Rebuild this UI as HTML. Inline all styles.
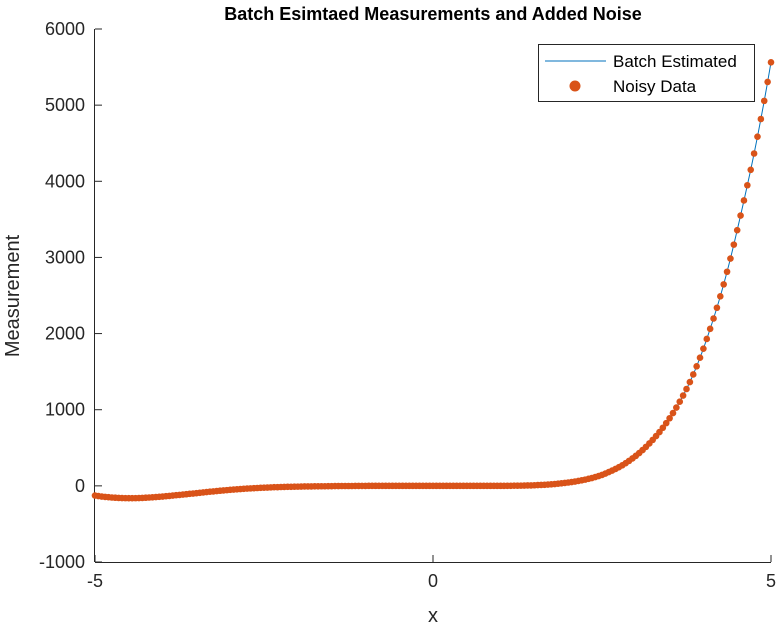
<!DOCTYPE html>
<html><head><meta charset="utf-8"><style>
body{margin:0;background:#fff;}
svg{display:block;font-family:"Liberation Sans",Arial,sans-serif;}
</style></head><body>
<svg id="chart" width="779" height="625">
<rect width="779" height="625" fill="#fff"/>
<text x="433" y="20" text-anchor="middle" font-size="18" font-weight="bold" fill="#000">Batch Esimtaed Measurements and Added Noise</text>
<g id="axes"></g>
<g id="series"></g>
<text x="433" y="622" text-anchor="middle" font-size="20" fill="#262626">x</text>
<text transform="translate(19,296) rotate(-90)" text-anchor="middle" font-size="20" fill="#262626">Measurement</text>
<g>
<rect x="538.5" y="44.5" width="216" height="57" fill="#fff" stroke="#262626" stroke-width="1"/>
<line x1="545" y1="61" x2="606" y2="61" stroke="#0072BD" stroke-width="1"/>
<text x="613" y="67" font-size="17" fill="#000">Batch Estimated</text>
<circle cx="575" cy="86" r="5.5" fill="#D95319"/>
<text x="613" y="92" font-size="17" fill="#000">Noisy Data</text>
</g>
</svg>
<script>
const xStart = -5, xStep = 0.05;
const measurements = [
-128,-134,-140,-145,-149,-153,-156,-158,-160,-161,-162,
-162,-161,-160,-158,-156,-153,-150,-147,-144,-140,
-136,-132,-128,-123,-119,-114,-110,-105,-101,-96,
-91,-86,-82,-77,-73,-68,-64,-60,-56,-52,
-49,-45,-42,-39,-36,-33,-31,-28,-26,-24,
-22,-20,-18,-17,-15,-14,-13,-12,-11,-10,
-9,-8,-7,-7,-6,-6,-5,-5,-4,-4,
-3,-3,-2,-2,-2,-2,-1,-1,-1,-1,
0,0,0,0,0,0,0,0,0,0,
0,0,0,0,0,0,0,0,0,0,
0,0,0,0,0,0,0,0,0,0,
0,0,0,0,0,0,0,0,0,0,
0,1,1,2,2,3,4,5,6,8,
10,12,14,17,20,24,28,33,38,44,
50,57,65,73,82,92,103,115,129,143,
161,181,201,222,245,270,298,328,360,394,
431,470,512,557,604,654,707,763,824,888,
956,1028,1105,1186,1272,1363,1463,1570,1683,1802,
1929,2062,2198,2339,2489,2646,2812,2985,3168,3358,
3550,3748,3948,4151,4365,4586,4818,5056,5305,5563];
const xTicks = [-5,0,5];
const yTicks = [-1000,0,1000,2000,3000,4000,5000,6000];

const NS='http://www.w3.org/2000/svg';
const X0=95,X1=771,Y0=562,Y1=29;
function sx(v){return X0+(v-(-5))/10*(X1-X0);}
function sy(v){return Y0-(v-(-1000))/7000*(Y0-Y1);}
function mk(tag,attrs,parent){const e=document.createElementNS(NS,tag);for(const k in attrs)e.setAttribute(k,attrs[k]);parent.appendChild(e);return e;}
const axes=document.getElementById('axes');
let a=mk('line',{x1:X0,y1:Y0+0.5,x2:X1,y2:Y0+0.5,stroke:'#262626','stroke-width':1},axes);


a=mk('line',{x1:X0-0.5,y1:Y1,x2:X0-0.5,y2:Y0,stroke:'#262626','stroke-width':1},axes);


xTicks.forEach(v=>{
  const t=mk('line',{x1:sx(v),y1:Y0,x2:sx(v),y2:Y0-7,stroke:'#262626'},axes);
  
  
  const l=mk('text',{x:sx(v),y:Y0+25,'text-anchor':'middle','font-size':18,fill:'#262626'},axes);
  l.textContent=v;
  
  
});
yTicks.forEach(v=>{
  const t=mk('line',{x1:X0,y1:sy(v),x2:X0+7,y2:sy(v),stroke:'#262626'},axes);
  
  
  const l=mk('text',{x:X0-10,y:sy(v)+6,'text-anchor':'end','font-size':18,fill:'#262626'},axes);
  l.textContent=v;
  
  
});
const series=document.getElementById('series');
const pts=measurements.map((v,i)=>[sx(xStart+i*xStep),sy(v)]);
const line=mk('polyline',{points:pts.map(p=>p.join(',')).join(' '),fill:'none',stroke:'#0072BD','stroke-width':1},series);


pts.forEach(p=>{
  const c=mk('circle',{cx:p[0],cy:p[1],r:3.3,fill:'#D95319'},series);
  
  
});
</script>
</body></html>
